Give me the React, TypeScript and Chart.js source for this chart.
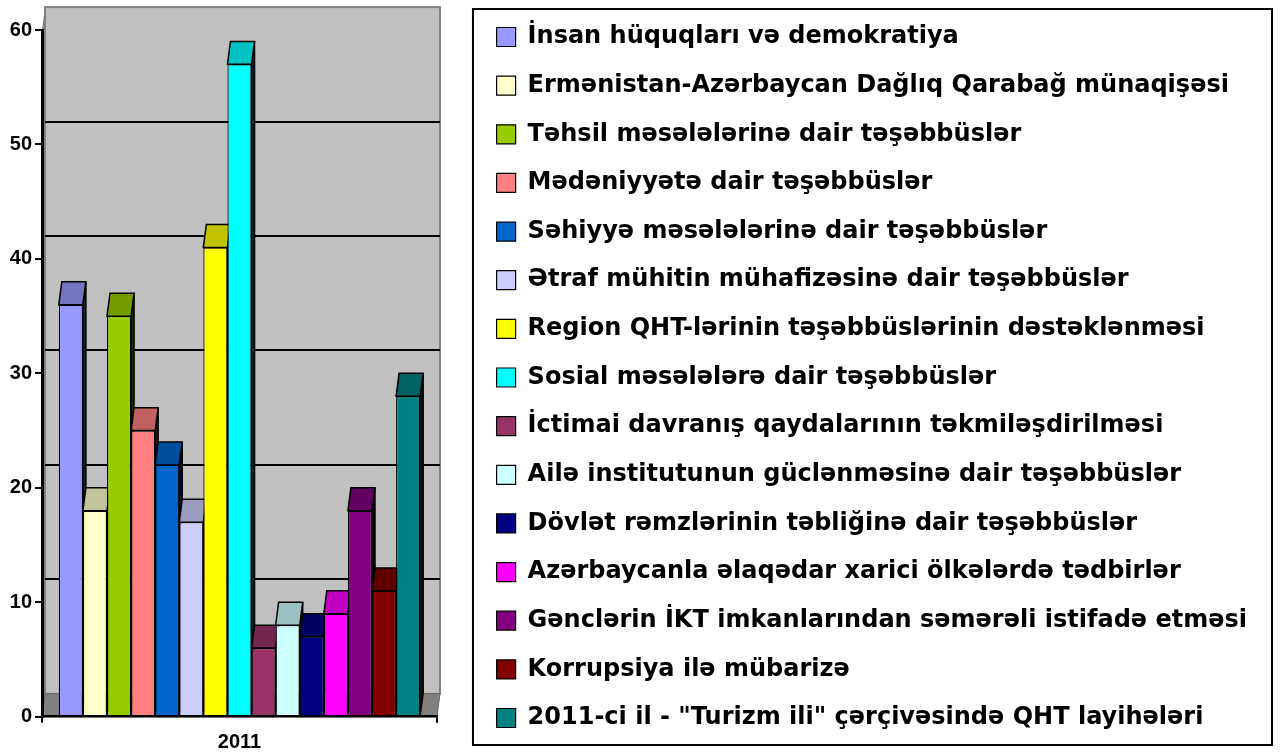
import React, { useEffect, useRef } from 'react';
import { Chart, registerables } from 'chart.js';

Chart.register(...registerables);

const categories = ['2011'];

const seriesLabels = [
  'İnsan hüquqları və demokratiya',
  'Ermənistan-Azərbaycan Dağlıq Qarabağ münaqişəsi',
  'Təhsil məsələlərinə dair təşəbbüslər',
  'Mədəniyyətə dair təşəbbüslər',
  'Səhiyyə məsələlərinə dair təşəbbüslər',
  'Ətraf mühitin mühafizəsinə dair təşəbbüslər',
  'Region QHT-lərinin təşəbbüslərinin dəstəklənməsi',
  'Sosial məsələlərə dair təşəbbüslər',
  'İctimai davranış qaydalarının təkmiləşdirilməsi',
  'Ailə institutunun güclənməsinə dair təşəbbüslər',
  'Dövlət rəmzlərinin təbliğinə dair təşəbbüslər',
  'Azərbaycanla əlaqədar xarici ölkələrdə tədbirlər',
  'Gənclərin İKT imkanlarından səmərəli istifadə etməsi',
  'Korrupsiya ilə mübarizə',
  '2011-ci il - "Turizm ili" çərçivəsində QHT layihələri',
];

const seriesValues = [36, 18, 35, 25, 22, 17, 41, 57, 6, 8, 7, 9, 18, 11, 28];

const seriesColors = [
  '#9999FF', '#FFFFCC', '#99CC00', '#FF8080', '#0066CC',
  '#CCCCFF', '#FFFF00', '#00FFFF', '#993366', '#CCFFFF',
  '#000080', '#FF00FF', '#800080', '#800000', '#008080',
];

const yMin = 0;
const yMax = 60;
const yStep = 10;

// 3D look
const DEPTH_UNITS = 2;
const DEPTH_DX = 3;
const WALL = '#C0C0C0';
const WALL_EDGE = '#808080';
const FLOOR = '#808080';

function shade(hex: string, f: number) {
  const n = parseInt(hex.slice(1), 16);
  const r = Math.round(((n >> 16) & 255) * f);
  const g = Math.round(((n >> 8) & 255) * f);
  const b = Math.round((n & 255) * f);
  return `rgb(${r},${g},${b})`;
}

function poly(ctx: CanvasRenderingContext2D, pts: number[][]) {
  ctx.beginPath();
  ctx.moveTo(pts[0][0], pts[0][1]);
  for (let i = 1; i < pts.length; i++) ctx.lineTo(pts[i][0], pts[i][1]);
  ctx.closePath();
}

const threeD = {
  id: 'threeD',
  beforeDatasetsDraw(chart: any) {
    const { ctx, chartArea: a, scales } = chart;
    const y = scales.y;
    const y0 = y.getPixelForValue(y.min);
    const yT = y.getPixelForValue(y.max);
    const dy = y.getPixelForValue(0) - y.getPixelForValue(DEPTH_UNITS);
    const dx = DEPTH_DX;
    ctx.save();
    ctx.lineJoin = 'miter';
    // left side wall
    poly(ctx, [[a.left, yT], [a.left + dx, yT - dy], [a.left + dx, y0 - dy], [a.left, y0]]);
    ctx.fillStyle = WALL_EDGE;
    ctx.fill();
    // back wall
    ctx.fillStyle = WALL;
    ctx.fillRect(a.left + dx, yT - dy, a.right - a.left, y0 - yT);
    ctx.strokeStyle = WALL_EDGE;
    ctx.lineWidth = 2;
    ctx.strokeRect(a.left + dx, yT - dy, a.right - a.left, y0 - yT);
    // floor
    poly(ctx, [[a.left, y0], [a.right, y0], [a.right + dx, y0 - dy], [a.left + dx, y0 - dy]]);
    ctx.fillStyle = FLOOR;
    ctx.fill();
    ctx.lineWidth = 1;
    ctx.strokeStyle = '#666666';
    ctx.stroke();
    // gridlines on back wall
    ctx.strokeStyle = '#000000';
    ctx.lineWidth = 2;
    y.ticks.forEach((t: any) => {
      if (t.value <= y.min || t.value >= y.max) return;
      const py = Math.round(y.getPixelForValue(t.value) - dy);
      ctx.beginPath();
      ctx.moveTo(a.left + dx, py);
      ctx.lineTo(a.right + dx, py);
      ctx.stroke();
    });
    // bar tops and sides
    ctx.lineWidth = 1.5;
    ctx.strokeStyle = '#000000';
    chart.data.datasets.forEach((ds: any, i: number) => {
      const meta = chart.getDatasetMeta(i);
      meta.data.forEach((el: any) => {
        const p = el.getProps(['x', 'y', 'base', 'width'], true);
        const L = p.x - p.width / 2;
        const R = p.x + p.width / 2;
        const T = p.y;
        const B = p.base;
        poly(ctx, [[R, T], [R + dx, T - dy], [R + dx, B - dy], [R, B]]);
        ctx.fillStyle = shade(ds.backgroundColor, 0.2);
        ctx.fill();
        ctx.stroke();
        poly(ctx, [[L, T], [R, T], [R + dx, T - dy], [L + dx, T - dy]]);
        ctx.fillStyle = shade(ds.backgroundColor, 0.76);
        ctx.fill();
        ctx.stroke();
      });
    });
    ctx.restore();
  },
};

const legendFrame = {
  id: 'legendFrame',
  afterDraw(chart: any) {
    const lg = chart.legend;
    if (!lg) return;
    const { ctx } = chart;
    ctx.save();
    ctx.strokeStyle = '#000000';
    ctx.lineWidth = 2;
    const x0 = lg.left + 1;
    ctx.strokeRect(x0, 9, 1272 - x0, 736);
    ctx.restore();
  },
};

const AXIS_FONT = { family: "'Liberation Sans', Arial, sans-serif", size: 20, weight: 'bold' as const };

export default function App() {
  const ref = useRef<HTMLCanvasElement | null>(null);

  useEffect(() => {
    if (!ref.current) return;
    const chart = new Chart(ref.current, {
      type: 'bar',
      data: {
        labels: categories,
        datasets: seriesLabels.map((label, i) => ({
          label,
          data: [seriesValues[i]],
          backgroundColor: seriesColors[i],
          borderColor: '#000000',
          borderWidth: 1.2,
          categoryPercentage: 0.915,
          barPercentage: 1,
        })),
      },
      options: {
        animation: false,
        responsive: true,
        maintainAspectRatio: false,
        layout: { padding: { top: -1, bottom: -3, left: 0, right: 23 } },
        plugins: {
          tooltip: { enabled: false },
          legend: {
            position: 'right',
            align: 'center',
            maxWidth: 1000,
            onClick: () => {},
            labels: {
              boxWidth: 19,
              boxHeight: 19,
              padding: 24.64,
              color: '#000000',
              font: { family: "'DejaVu Sans', sans-serif", size: 24, weight: 'bold' },
            },
          },
        },
        scales: {
          x: {
            grid: { display: true, drawOnChartArea: false, drawTicks: true, tickLength: 6, color: '#000000', lineWidth: 2, z: 1 },
            border: { display: true, color: '#000000', width: 2.5, z: 1 },
            ticks: { color: '#000000', font: AXIS_FONT, padding: 8 },
            afterFit: (s: any) => { s.height = 39.3; },
          },
          y: {
            min: yMin,
            max: yMax,
            grid: { display: true, drawOnChartArea: false, drawTicks: true, tickLength: 7, color: '#000000', lineWidth: 2, z: 1 },
            border: { display: true, color: '#000000', width: 3, z: 1 },
            ticks: { stepSize: yStep, color: '#000000', font: AXIS_FONT, padding: 3 },
            afterFit: (s: any) => { s.width = 42; s.paddingTop = 30; },
          },
          y2: {
            type: 'linear',
            position: 'right',
            display: true,
            grid: { display: false },
            border: { display: false },
            ticks: { display: false },
            afterFit: (s: any) => { s.width = 35; },
          },
        },
      },
      plugins: [threeD, legendFrame],
    } as any);
    return () => chart.destroy();
  }, []);

  return (
    <div style={{ position: 'fixed', left: 0, top: 0, width: 1280, height: 753, background: '#ffffff' }}>
      <canvas ref={ref} />
    </div>
  );
}
